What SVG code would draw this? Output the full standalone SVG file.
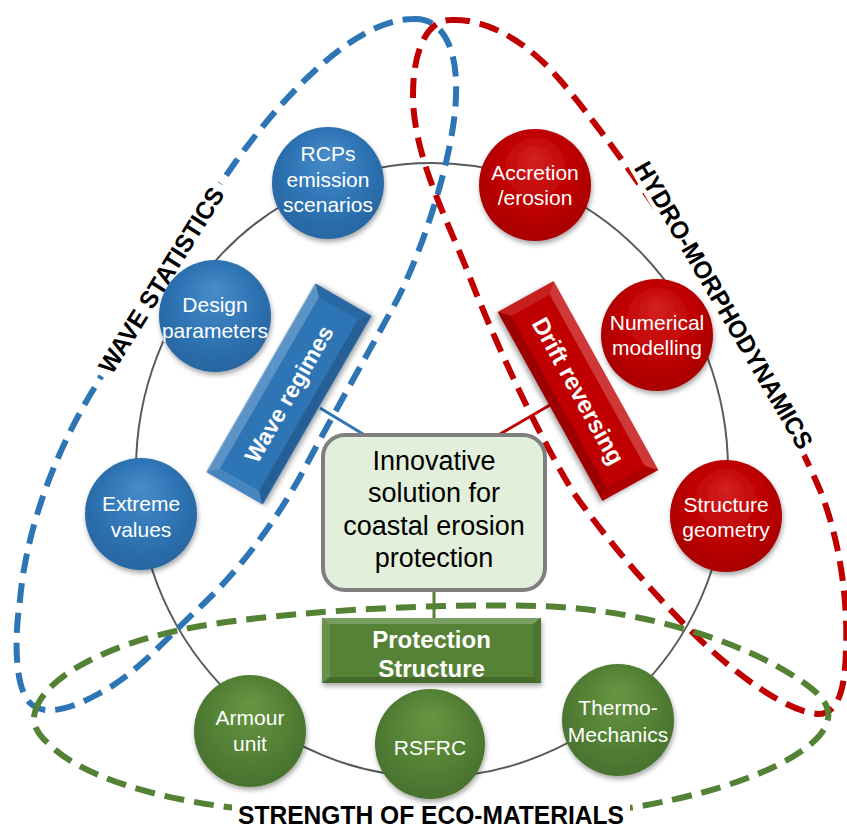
<svg xmlns="http://www.w3.org/2000/svg" width="847" height="829" viewBox="0 0 847 829">
  <defs>
    <radialGradient id="gBlue" cx="50%" cy="45%" r="55%" fx="50%" fy="25%">
      <stop offset="0" stop-color="#4a8cca"/>
      <stop offset="0.6" stop-color="#2f75b5"/>
      <stop offset="1" stop-color="#2866a2"/>
    </radialGradient>
    <radialGradient id="gRed" cx="50%" cy="45%" r="55%" fx="50%" fy="25%">
      <stop offset="0" stop-color="#d42222"/>
      <stop offset="0.6" stop-color="#c00000"/>
      <stop offset="1" stop-color="#a80000"/>
    </radialGradient>
    <radialGradient id="gGreen" cx="50%" cy="45%" r="55%" fx="50%" fy="25%">
      <stop offset="0" stop-color="#679642"/>
      <stop offset="0.6" stop-color="#548235"/>
      <stop offset="1" stop-color="#49722e"/>
    </radialGradient>
    <filter id="shadow" x="-30%" y="-30%" width="160%" height="160%">
      <feDropShadow dx="1" dy="3" stdDeviation="2.5" flood-color="#000" flood-opacity="0.35"/>
    </filter>
    <style>
      .loop { fill: none; stroke-width: 6; stroke-dasharray: 20 10; }
      .nt { font-family: "Liberation Sans", Arial, sans-serif; font-size: 21px; fill: #fff; text-anchor: middle; }
      .bt { font-family: "Liberation Sans", Arial, sans-serif; font-weight: bold; fill: #fff; text-anchor: middle; }
      .lbl { font-family: "Liberation Sans", Arial, sans-serif; font-weight: bold; fill: #000; text-anchor: middle; }
      .hi { fill: #fff; opacity: 0.22; }
      .hi2 { fill: #fff; opacity: 0.12; }
      .lo { fill: #000; opacity: 0.18; }
      .lo2 { fill: #000; opacity: 0.1; }
    </style>
  </defs>

  <rect width="847" height="829" fill="#fff"/>

  <!-- ring through the topic nodes -->
  <ellipse id="ring" cx="432" cy="470" rx="296" ry="307" fill="none" stroke="#595959" stroke-width="2"/>

  <!-- dashed theme loops -->
  <g id="loops">
    <path class="loop" stroke="#2e75b6" d="M 413,19 C 440,17 458,45 456,95 C 455,150 425,245 397,300 C 370,350 330,420 300,477 C 270,530 235,575 197,610 C 165,640 135,675 100,693 C 75,707 45,718 30,703 C 15,688 14,640 20,600 C 26,530 55,450 98,382 C 135,315 180,240 223,180 C 270,110 350,19 413,19 Z"/>
    <path class="loop" stroke="#c00000" d="M 450,20 C 490,18 530,45 560,80 C 620,150 760,350 820,490 C 840,540 848,600 846,650 C 845,690 838,714 818,714 C 790,712 740,680 690,630 C 640,580 600,530 573,492 C 530,420 490,330 465,265 C 440,205 413,150 413,95 C 413,45 430,20 450,20 Z"/>
    <path class="loop" stroke="#548235" d="M 35,712 C 45,675 110,645 180,630 C 260,613 420,603 540,606 C 640,609 740,640 800,680 C 825,697 838,712 820,735 C 790,770 700,800 600,812 C 480,824 320,818 227,807 C 150,797 80,775 50,745 C 35,732 32,722 35,712 Z"/>
  </g>

  <!-- theme labels -->
  <g id="label-wave" transform="translate(161,280) rotate(-58)">
    <rect x="-113" y="-13" width="226" height="26" fill="#fff"/>
    <text class="lbl" x="0" y="9" font-size="25" textLength="214" lengthAdjust="spacingAndGlyphs">WAVE STATISTICS</text>
  </g>
  <g id="label-hydro" transform="translate(724,305) rotate(59.7)">
    <rect x="-170" y="-13" width="340" height="26" fill="#fff"/>
    <text class="lbl" x="0" y="9" font-size="25" textLength="328" lengthAdjust="spacingAndGlyphs">HYDRO-MORPHODYNAMICS</text>
  </g>
  <g id="label-materials">
    <rect x="232" y="802" width="398" height="27" fill="#fff"/>
    <text class="lbl" x="431" y="824" font-size="25" textLength="386" lengthAdjust="spacingAndGlyphs">STRENGTH OF ECO-MATERIALS</text>
  </g>

  <!-- connectors -->
  <g id="connectors" stroke-width="3" fill="none">
    <line x1="320" y1="408" x2="363" y2="434" stroke="#2e75b6"/>
    <line x1="550" y1="405" x2="500" y2="434" stroke="#c00000"/>
    <line x1="434" y1="590" x2="434" y2="618" stroke="#548235"/>
  </g>

  <!-- bar: Wave regimes -->
  <g id="wave-regimes" transform="translate(289,394) rotate(-60)">
    <g filter="url(#shadow)">
      <rect x="-109" y="-32.5" width="218" height="65" fill="#2e75b6"/>
    </g>
    <polygon class="hi" points="-109,-32.5 109,-32.5 99,-22.5 -99,-22.5"/>
    <polygon class="hi2" points="-109,-32.5 -99,-22.5 -99,22.5 -109,32.5"/>
    <polygon class="lo" points="-109,32.5 109,32.5 99,22.5 -99,22.5"/>
    <polygon class="lo2" points="109,-32.5 109,32.5 99,22.5 99,-22.5"/>
    <text class="bt" x="0" y="8" font-size="23">Wave regimes</text>
  </g>

  <!-- bar: Drift reversing -->
  <g id="drift-reversing" transform="translate(578,391) rotate(61)">
    <g filter="url(#shadow)">
      <rect x="-108" y="-32" width="216" height="64" fill="#c00000"/>
    </g>
    <polygon class="hi" points="-108,-32 108,-32 98,-22 -98,-22"/>
    <polygon class="hi2" points="-108,-32 -98,-22 -98,22 -108,32"/>
    <polygon class="lo" points="-108,32 108,32 98,22 -98,22"/>
    <polygon class="lo2" points="108,-32 108,32 98,22 98,-22"/>
    <text class="bt" x="0" y="8" font-size="24">Drift reversing</text>
  </g>

  <!-- central box -->
  <g id="core">
    <rect x="323" y="435" width="222" height="155" rx="22" fill="#e2efda" stroke="#7f7f7f" stroke-width="4"/>
    <g font-family="'Liberation Sans', Arial, sans-serif" font-size="27" fill="#000" text-anchor="middle">
      <text x="434" y="470">Innovative</text>
      <text x="434" y="502">solution for</text>
      <text x="434" y="535">coastal erosion</text>
      <text x="434" y="567">protection</text>
    </g>
  </g>

  <!-- bar: Protection Structure -->
  <g id="protection-structure" transform="translate(431.5,650.5)">
    <g filter="url(#shadow)">
      <rect x="-109.5" y="-32.5" width="219" height="65" fill="#548235"/>
    </g>
    <polygon class="hi" points="-109.5,-32.5 109.5,-32.5 101.5,-26.5 -101.5,-26.5"/>
    <polygon class="hi2" points="-109.5,-32.5 -101.5,-26.5 -101.5,26.5 -109.5,32.5"/>
    <polygon class="lo" points="-109.5,32.5 109.5,32.5 101.5,26.5 -101.5,26.5"/>
    <polygon class="lo2" points="109.5,-32.5 109.5,32.5 101.5,26.5 101.5,-26.5"/>
    <text class="bt" x="0" y="-3" font-size="24">Protection</text>
    <text class="bt" x="0" y="26" font-size="24">Structure</text>
  </g>

  <!-- wave statistics nodes -->
  <g id="node-rcps">
    <circle cx="328" cy="183" r="56" fill="url(#gBlue)" filter="url(#shadow)"/>
    <text class="nt" x="328" y="161">RCPs</text>
    <text class="nt" x="328" y="187">emission</text>
    <text class="nt" x="328" y="212">scenarios</text>
  </g>
  <g id="node-design">
    <circle cx="215" cy="316" r="56" fill="url(#gBlue)" filter="url(#shadow)"/>
    <text class="nt" x="215" y="312">Design</text>
    <text class="nt" x="215" y="338">parameters</text>
  </g>
  <g id="node-extreme">
    <circle cx="141" cy="514" r="56" fill="url(#gBlue)" filter="url(#shadow)"/>
    <text class="nt" x="141" y="511">Extreme</text>
    <text class="nt" x="141" y="537">values</text>
  </g>

  <!-- hydro-morphodynamics nodes -->
  <g id="node-accretion">
    <circle cx="535" cy="185" r="56" fill="url(#gRed)" filter="url(#shadow)"/>
    <text class="nt" x="535" y="180">Accretion</text>
    <text class="nt" x="535" y="205">/erosion</text>
  </g>
  <g id="node-numerical">
    <circle cx="657" cy="335" r="56" fill="url(#gRed)" filter="url(#shadow)"/>
    <text class="nt" x="657" y="330">Numerical</text>
    <text class="nt" x="657" y="355">modelling</text>
  </g>
  <g id="node-geometry">
    <circle cx="726" cy="516" r="56" fill="url(#gRed)" filter="url(#shadow)"/>
    <text class="nt" x="726" y="512">Structure</text>
    <text class="nt" x="726" y="537">geometry</text>
  </g>

  <!-- eco-materials nodes -->
  <g id="node-armour">
    <circle cx="250" cy="731" r="56" fill="url(#gGreen)" filter="url(#shadow)"/>
    <text class="nt" x="250" y="725">Armour</text>
    <text class="nt" x="250" y="751">unit</text>
  </g>
  <g id="node-rsfrc">
    <circle cx="430" cy="744" r="55" fill="url(#gGreen)" filter="url(#shadow)"/>
    <text class="nt" x="430" y="755">RSFRC</text>
  </g>
  <g id="node-thermo">
    <circle cx="618" cy="720" r="56" fill="url(#gGreen)" filter="url(#shadow)"/>
    <text class="nt" x="618" y="715">Thermo-</text>
    <text class="nt" x="618" y="742">Mechanics</text>
  </g>
</svg>
